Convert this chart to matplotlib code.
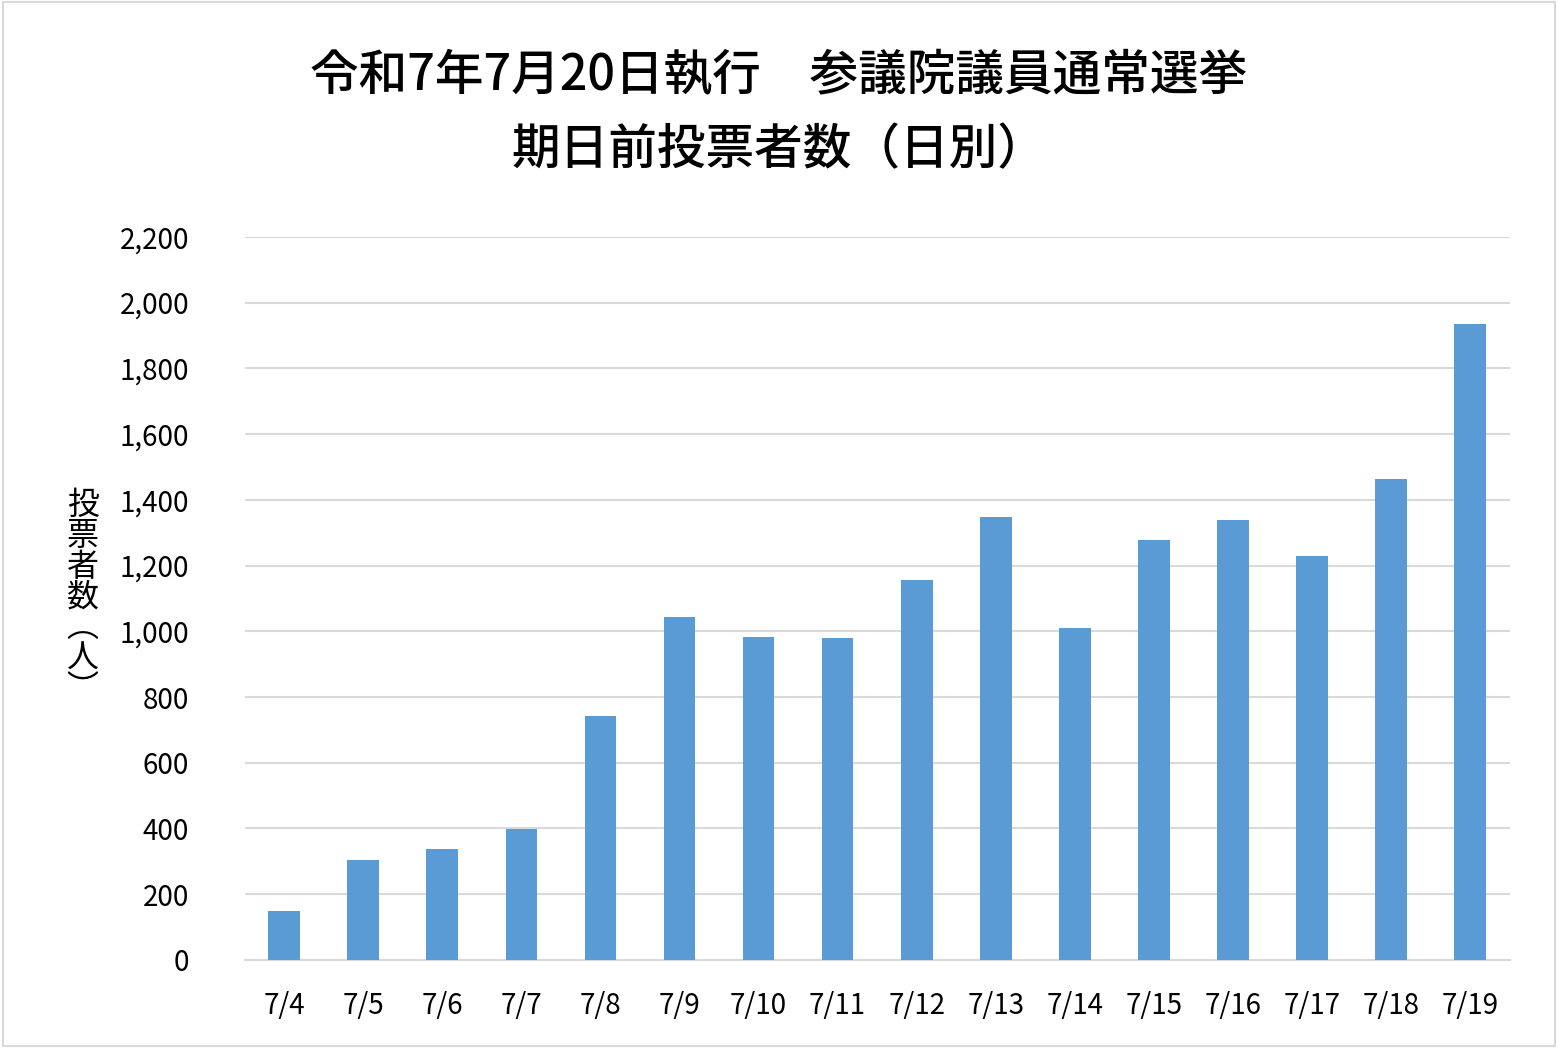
import matplotlib
matplotlib.use("Agg")
import matplotlib.pyplot as plt
from matplotlib.patches import Rectangle

plt.rcParams['font.family'] = ['Noto Sans CJK JP', 'DejaVu Sans']

dates = ["7/4","7/5","7/6","7/7","7/8","7/9","7/10","7/11","7/12","7/13","7/14","7/15","7/16","7/17","7/18","7/19"]
voters = [150, 304, 338, 399, 743, 1044, 983, 980, 1157, 1349, 1011, 1279, 1339, 1230, 1464, 1936]
yticks = list(range(0, 2201, 200))

fig = plt.figure(figsize=(15.58, 10.48), dpi=100)
fig.patches.append(Rectangle((0.002, 0.002), 0.996, 0.996, transform=fig.transFigure,
                             fill=False, edgecolor='#d9d9d9', linewidth=1.5))
ax = fig.add_axes([0.157, 0.084, 0.812, 0.690])
x = range(len(dates))
ax.bar(x, voters, width=0.4, color='#5B9BD5', zorder=3)
ax.set_ylim(0, 2200)
ax.set_xlim(-0.5, len(dates) - 0.5)
ax.set_yticks(yticks)
ax.set_yticklabels([f"{v:,}" for v in yticks], fontsize=20)
ax.set_xticks(list(x))
ax.set_xticklabels(dates, fontsize=20)
ax.grid(axis='y', color='#d9d9d9', linewidth=1.5, zorder=0)
for s in ['top', 'right', 'left']:
    ax.spines[s].set_visible(False)
ax.spines['bottom'].set_color('#d9d9d9')
ax.spines['bottom'].set_linewidth(1.5)
ax.tick_params(axis='y', length=0, pad=40)
ax.tick_params(axis='x', length=0, pad=22)
fig.text(0.053, 0.43, "投\n票\n者\n数\n︵\n人\n︶", fontsize=23, ha='center', va='center', linespacing=0.95)
fig.text(0.5, 0.928, "令和7年7月20日執行　参議院議員通常選挙", fontsize=35, fontweight='medium', ha='center', va='center')
fig.text(0.5, 0.857, "期日前投票者数（日別）", fontsize=35, fontweight='medium', ha='center', va='center')
fig.savefig("out.png", dpi=100)
